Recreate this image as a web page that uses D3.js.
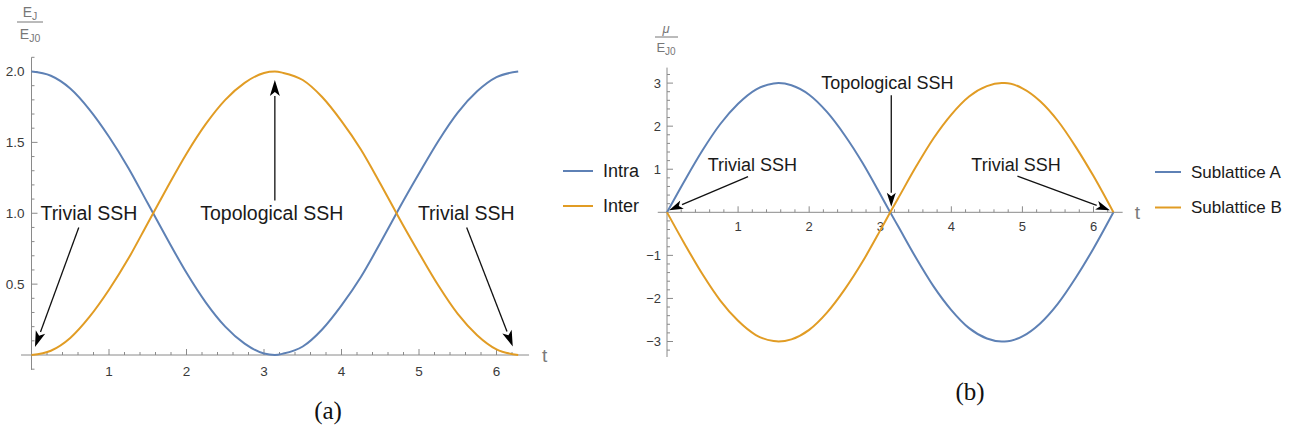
<!DOCTYPE html>
<html>
<head>
<meta charset="utf-8">
<script src="https://cdn.jsdelivr.net/npm/d3@7"></script>
<style>
  html, body { margin: 0; padding: 0; background: #fff; }
  svg { display: block; font-family: "Liberation Sans", Arial, Helvetica, sans-serif; }
</style>
</head>
<body>
<svg id="chart" width="1305" height="436"></svg>
<script>
// Sample times along one period
const tValues = [0, 0.25, 0.5, 0.75, 1, 1.25, 1.5, 1.57, 1.75, 2, 2.25, 2.5, 2.75, 3, 3.14, 3.25, 3.5, 3.75, 4, 4.25, 4.5, 4.71, 4.75, 5, 5.25, 5.5, 5.75, 6, 6.28];

// Panel (a): Josephson energies E_J / E_J0
const intraValues = [2.00, 1.97, 1.88, 1.73, 1.54, 1.32, 1.07, 1.00, 0.82, 0.58, 0.37, 0.20, 0.08, 0.01, 0.00, 0.01, 0.06, 0.18, 0.35, 0.55, 0.79, 1.00, 1.04, 1.28, 1.51, 1.71, 1.86, 1.96, 2.00];
const interValues = [0.00, 0.03, 0.12, 0.27, 0.46, 0.68, 0.93, 1.00, 1.18, 1.42, 1.63, 1.80, 1.92, 1.99, 2.00, 1.99, 1.94, 1.82, 1.65, 1.45, 1.21, 1.00, 0.96, 0.72, 0.49, 0.29, 0.14, 0.04, 0.00];

// Panel (b): on-site potentials mu / E_J0
const subAValues = [0.00, 0.74, 1.44, 2.05, 2.52, 2.85, 2.99, 3.00, 2.95, 2.73, 2.33, 1.79, 1.15, 0.42, 0.00, -0.32, -1.05, -1.72, -2.27, -2.69, -2.93, -3.00, -3.00, -2.88, -2.58, -2.12, -1.52, -0.84, 0.00];
const subBValues = [0.00, -0.74, -1.44, -2.05, -2.52, -2.85, -2.99, -3.00, -2.95, -2.73, -2.33, -1.79, -1.15, -0.42, 0.00, 0.32, 1.05, 1.72, 2.27, 2.69, 2.93, 3.00, 3.00, 2.88, 2.58, 2.12, 1.52, 0.84, 0.00];

// Tick labels
const xTicksA = [1, 2, 3, 4, 5, 6];
const yTicksA = [0.5, 1.0, 1.5, 2.0];
const xTicksB = [1, 2, 3, 4, 5, 6];
const yTicksB = [-3, -2, -1, 1, 2, 3];

const seriesNamesA = ["Intra", "Inter"];
const seriesNamesB = ["Sublattice A", "Sublattice B"];

// Annotations in data coordinates: label position, arrow tail, arrow tip
const notesA = [
  { text: "Trivial SSH", x: 0.74, y: 1.0, from: [0.61, 0.90], to: [0.045, 0.056] },
  { text: "Topological SSH", x: 3.10, y: 1.0, from: [3.14, 1.09], to: [3.14, 1.94] },
  { text: "Trivial SSH", x: 5.61, y: 1.0, from: [5.615, 0.90], to: [6.21, 0.06] }
];
const notesB = [
  { text: "Trivial SSH", x: 1.20, y: 1.10, from: [1.14, 0.83], to: [0.03, 0.05] },
  { text: "Topological SSH", x: 3.10, y: 3.0, from: [3.155, 2.72], to: [3.155, 0.13] },
  { text: "Trivial SSH", x: 4.91, y: 1.10, from: [4.93, 0.84], to: [6.23, 0.05] }
];

const BLUE = "#5e81b5";
const ORANGE = "#e19c24";
const AXIS = "#8a8a8a";
const TICKTXT = "#3a3a3a";

const svg = d3.select("#chart");

function drawPanel(cfg) {
  const g = svg.append("g");
  const x = cfg.x, y = cfg.y;

  // axis lines (crossing at the origin, extended a little past the data)
  g.append("line").attr("x1", x(cfg.xAxisExtent[0])).attr("x2", x(cfg.xAxisExtent[1]))
    .attr("y1", y(0)).attr("y2", y(0)).attr("stroke", AXIS).attr("stroke-width", 1);
  g.append("line").attr("x1", x(0)).attr("x2", x(0))
    .attr("y1", y(cfg.yAxisExtent[0])).attr("y2", y(cfg.yAxisExtent[1]))
    .attr("stroke", AXIS).attr("stroke-width", 1);

  // x ticks pointing up into the plot
  const xMinor = d3.range(cfg.xMinorStep, cfg.xAxisExtent[1] - 0.05, cfg.xMinorStep)
    .filter(v => !cfg.xTicks.some(t => Math.abs(t - v) < 1e-6));
  g.selectAll(null).data(xMinor).join("line")
    .attr("x1", d => x(d)).attr("x2", d => x(d))
    .attr("y1", y(0)).attr("y2", y(0) - 3)
    .attr("stroke", AXIS);
  g.selectAll(null).data(cfg.xTicks).join("line")
    .attr("x1", d => x(d)).attr("x2", d => x(d))
    .attr("y1", y(0)).attr("y2", y(0) - 6)
    .attr("stroke", AXIS);
  g.selectAll(null).data(cfg.xTicks).join("text")
    .attr("x", d => x(d)).attr("y", y(0) + cfg.xLabelOffset)
    .attr("text-anchor", "middle").attr("dominant-baseline", "central")
    .attr("font-size", cfg.tickFont).attr("fill", TICKTXT)
    .text(d => d3.format("d")(d));

  // y ticks pointing right into the plot
  const yMinorAll = d3.range(Math.ceil(cfg.yAxisExtent[0] / cfg.yMinorStep),
                             Math.floor(cfg.yAxisExtent[1] / cfg.yMinorStep) + 1)
    .map(k => +(k * cfg.yMinorStep).toFixed(4))
    .filter(v => v !== 0 && !cfg.yTicks.some(t => Math.abs(t - v) < 1e-6));
  g.selectAll(null).data(yMinorAll).join("line")
    .attr("x1", x(0)).attr("x2", x(0) + 3)
    .attr("y1", d => y(d)).attr("y2", d => y(d))
    .attr("stroke", AXIS);
  g.selectAll(null).data(cfg.yTicks).join("line")
    .attr("x1", x(0)).attr("x2", x(0) + 6)
    .attr("y1", d => y(d)).attr("y2", d => y(d))
    .attr("stroke", AXIS);
  g.selectAll(null).data(cfg.yTicks).join("text")
    .attr("x", x(0) - cfg.yLabelOffset).attr("y", d => y(d))
    .attr("text-anchor", "end").attr("dominant-baseline", "central")
    .attr("font-size", cfg.tickFont).attr("fill", TICKTXT)
    .text(d => cfg.yFormat(d).replace("-", "\u2212"));

  // "t" axis label
  g.append("text")
    .attr("x", x(cfg.xAxisExtent[1]) + cfg.tLabelGap).attr("y", y(0))
    .attr("dominant-baseline", "central")
    .attr("font-size", 19).attr("fill", "#7a7a7a").text("t");

  // curves
  const line = d3.line().curve(d3.curveMonotoneX)
    .x(d => x(d[0])).y(d => y(d[1]));
  cfg.series.forEach(s => {
    g.append("path")
      .datum(tValues.map((t, i) => [t, s.values[i]]))
      .attr("fill", "none").attr("stroke", s.color)
      .attr("stroke-width", 2).attr("stroke-linejoin", "round")
      .attr("d", line);
  });

  // annotations with arrows
  cfg.notes.forEach(n => {
    g.append("text")
      .attr("x", x(n.x)).attr("y", y(n.y))
      .attr("text-anchor", "middle").attr("dominant-baseline", "central")
      .attr("font-size", cfg.noteFont).attr("fill", "#1a1a1a").text(n.text);
    const x1 = x(n.from[0]), y1 = y(n.from[1]);
    const x2 = x(n.to[0]), y2 = y(n.to[1]);
    const ang = Math.atan2(y2 - y1, x2 - x1);
    const L = cfg.headLen, W = cfg.headWidth;
    const bx = x2 - L * Math.cos(ang), by = y2 - L * Math.sin(ang);
    g.append("line")
      .attr("x1", x1).attr("y1", y1).attr("x2", bx).attr("y2", by)
      .attr("stroke", "#111").attr("stroke-width", 1.3);
    const px = -Math.sin(ang) * W / 2, py = Math.cos(ang) * W / 2;
    const nx = bx + 0.25 * L * Math.cos(ang), ny = by + 0.25 * L * Math.sin(ang);
    g.append("path")
      .attr("d", `M${x2},${y2}L${bx + px},${by + py}L${nx},${ny}L${bx - px},${by - py}Z`)
      .attr("fill", "#000");
  });

  // legend
  cfg.series.forEach((s, i) => {
    const ly = cfg.legend.y0 + i * cfg.legend.dy;
    g.append("line")
      .attr("x1", cfg.legend.x).attr("x2", cfg.legend.x + cfg.legend.len)
      .attr("y1", ly).attr("y2", ly)
      .attr("stroke", s.color).attr("stroke-width", 2);
    g.append("text")
      .attr("x", cfg.legend.x + cfg.legend.len + 10).attr("y", ly)
      .attr("dominant-baseline", "central")
      .attr("font-size", cfg.legend.font).attr("fill", "#1a1a1a").text(s.name);
  });

  return g;
}

// ---------- Panel (a) ----------
const xA = d3.scaleLinear().domain([0, 6]).range([31.5, 496.5]);
const yA = d3.scaleLinear().domain([0, 2]).range([355, 71.5]);
const gA = drawPanel({
  x: xA, y: yA,
  xAxisExtent: [-0.135, 6.42], yAxisExtent: [-0.105, 2.10],
  xTicks: xTicksA, yTicks: yTicksA, xMinorStep: 0.2, yMinorStep: 0.1,
  xLabelOffset: 16, yLabelOffset: 7, tickFont: 13.5, tLabelGap: 13,
  yFormat: d3.format(".1f"),
  series: [
    { name: seriesNamesA[0], values: intraValues, color: BLUE },
    { name: seriesNamesA[1], values: interValues, color: ORANGE }
  ],
  notes: notesA, noteFont: 19.5, headLen: 16, headWidth: 10,
  legend: { x: 563, y0: 171, dy: 35, len: 30, font: 18 }
});

// y label: E_J / E_J0
const labA = gA.append("g");
labA.append("text").attr("x", 30).attr("y", 12)
  .attr("text-anchor", "middle").attr("dominant-baseline", "central")
  .attr("font-size", 14).attr("fill", "#777")
  .call(t => { t.append("tspan").text("E"); t.append("tspan").attr("font-size", 10.5).attr("dy", 4).text("J"); });
labA.append("line").attr("x1", 17).attr("x2", 43).attr("y1", 22).attr("y2", 22)
  .attr("stroke", "#777").attr("stroke-width", 1);
labA.append("text").attr("x", 30).attr("y", 34)
  .attr("text-anchor", "middle").attr("dominant-baseline", "central")
  .attr("font-size", 14).attr("fill", "#777")
  .call(t => { t.append("tspan").text("E"); t.append("tspan").attr("font-size", 10.5).attr("dy", 4).text("J0"); });

// ---------- Panel (b) ----------
const xB = d3.scaleLinear().domain([0, 6]).range([667, 1093.5]);
const yB = d3.scaleLinear().domain([-3, 3]).range([341.5, 83.1]);
const gB = drawPanel({
  x: xB, y: yB,
  xAxisExtent: [-0.13, 6.41], yAxisExtent: [-3.36, 3.36],
  xTicks: xTicksB, yTicks: yTicksB, xMinorStep: 0.2, yMinorStep: 0.2,
  xLabelOffset: 14, yLabelOffset: 6, tickFont: 13, tLabelGap: 12,
  yFormat: d3.format("d"),
  series: [
    { name: seriesNamesB[0], values: subAValues, color: BLUE },
    { name: seriesNamesB[1], values: subBValues, color: ORANGE }
  ],
  notes: notesB, noteFont: 18, headLen: 14, headWidth: 9,
  legend: { x: 1155, y0: 172, dy: 35.5, len: 26, font: 17 }
});

// y label: mu / E_J0
const labB = gB.append("g");
labB.append("text").attr("x", 666).attr("y", 28)
  .attr("text-anchor", "middle").attr("dominant-baseline", "central")
  .attr("font-size", 13).attr("font-style", "italic").attr("fill", "#777").text("\u03bc");
labB.append("line").attr("x1", 655).attr("x2", 678).attr("y1", 37).attr("y2", 37)
  .attr("stroke", "#777").attr("stroke-width", 1);
labB.append("text").attr("x", 666).attr("y", 47)
  .attr("text-anchor", "middle").attr("dominant-baseline", "central")
  .attr("font-size", 13).attr("fill", "#777")
  .call(t => { t.append("tspan").text("E"); t.append("tspan").attr("font-size", 10).attr("dy", 4).text("J0"); });

// ---------- Captions ----------
svg.append("text").attr("x", 328).attr("y", 410)
  .attr("text-anchor", "middle").attr("dominant-baseline", "central")
  .attr("font-family", "'Liberation Serif', 'DejaVu Serif', serif")
  .attr("font-size", 25).attr("fill", "#111").text("(a)");
svg.append("text").attr("x", 970).attr("y", 391)
  .attr("text-anchor", "middle").attr("dominant-baseline", "central")
  .attr("font-family", "'Liberation Serif', 'DejaVu Serif', serif")
  .attr("font-size", 25).attr("fill", "#111").text("(b)");
</script>
</body>
</html>
